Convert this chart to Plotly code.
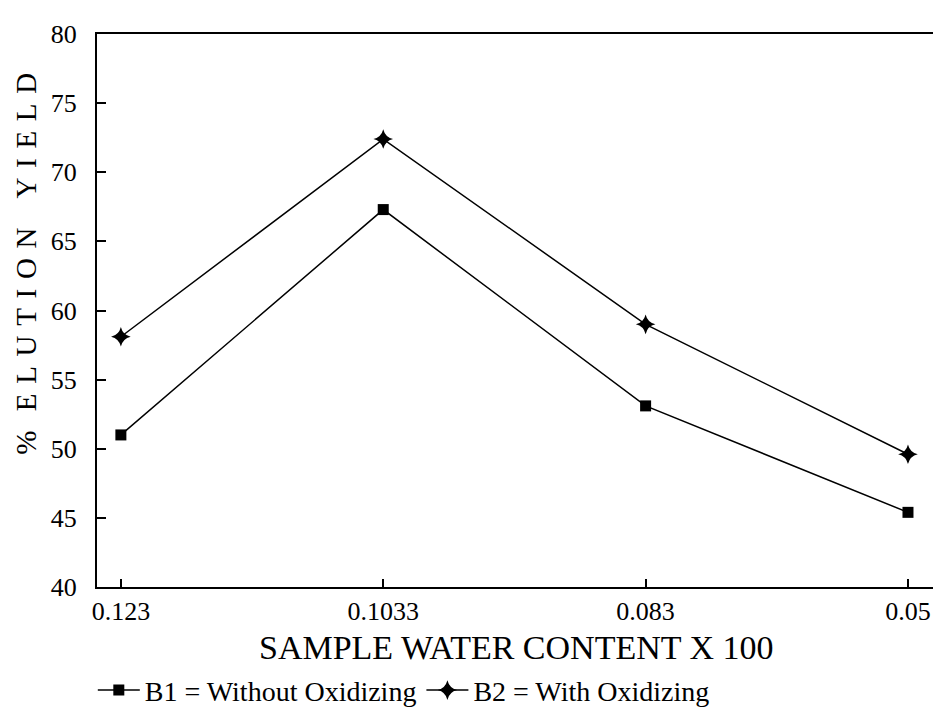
import plotly.graph_objects as go

categories = ["0.123", "0.1033", "0.083", "0.05"]
b1_values = [51.0, 67.3, 53.1, 45.4]
b2_values = [58.1, 72.4, 59.0, 49.6]
y_ticks = [40, 45, 50, 55, 60, 65, 70, 75, 80]

FONT = "Liberation Serif"
SP = "\u2004"
y_title = "%" + SP + SP + SP.join("ELUTION") + SP + SP + SP + SP.join("YIELD")

fig = go.Figure()
fig.add_trace(go.Scatter(
    x=categories, y=b1_values, mode="lines+markers",
    name="B1 = Without Oxidizing",
    line=dict(color="black", width=1.5),
    marker=dict(symbol="square", size=11, color="black"),
))
fig.add_trace(go.Scatter(
    x=categories, y=b2_values, mode="lines+markers",
    name="B2 = With Oxidizing",
    line=dict(color="black", width=1.5),
    marker=dict(symbol="star-diamond", size=14, color="black"),
))

fig.update_layout(
    width=941, height=721,
    margin=dict(l=89, r=12, t=19, b=142),
    paper_bgcolor="white", plot_bgcolor="white",
    font=dict(family=FONT, size=26, color="black"),
    showlegend=True,
    legend=dict(orientation="h", x=-0.005, xanchor="left", y=-0.187, yanchor="middle",
                font=dict(family=FONT, size=28), itemwidth=42,
                bgcolor="rgba(0,0,0,0)"),
    xaxis=dict(
        type="category", range=[-0.091, 3.103],
        showline=True, linecolor="black", linewidth=2, mirror=True,
        ticks="inside", ticklen=8, tickwidth=1.5, tickcolor="black",
        showgrid=False, zeroline=False,
        tickfont=dict(family=FONT, size=26),
    ),
    yaxis=dict(
        range=[40, 80], tickvals=y_ticks,
        showline=True, linecolor="black", linewidth=2, mirror=True,
        ticks="inside", ticklen=9, tickwidth=1.5, tickcolor="black",
        showgrid=False, zeroline=False,
        tickfont=dict(family=FONT, size=26),
        ticklabelstandoff=13,
    ),
)

fig.add_annotation(
    text="SAMPLE WATER CONTENT X 100",
    xref="paper", yref="paper", x=0.5, y=-0.109,
    xanchor="center", yanchor="middle", showarrow=False,
    font=dict(family=FONT, size=34),
)
fig.add_annotation(
    text=y_title,
    textangle=-90, xref="paper", yref="paper", x=-0.0845, y=0.585,
    xanchor="center", yanchor="middle", showarrow=False,
    font=dict(family=FONT, size=29),
)

fig.write_html("out.html")
